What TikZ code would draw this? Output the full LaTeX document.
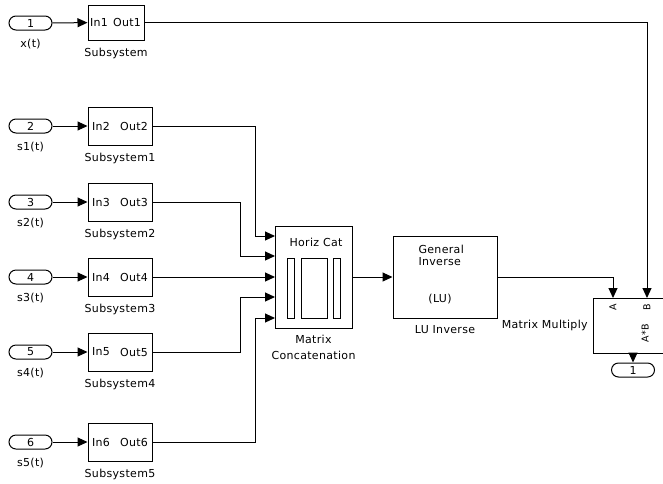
\documentclass[tikz,border=0pt]{standalone}
\usepackage{fontspec}
\setmainfont[LetterSpace=3]{DejaVu Sans}
\usetikzlibrary{positioning,arrows.meta}

\begin{document}
\begin{tikzpicture}[x=1pt,y=-1pt,
	font=\fontsize{11}{12}\selectfont,
	line width=1pt,
	sig/.style={-{Triangle[length=10pt,width=9pt]}},
	inport/.style={draw,rounded corners=7pt,minimum width=43pt,minimum height=14pt,inner sep=0pt},
	block/.style={draw,minimum width=64pt,minimum height=38pt,inner sep=0pt},
	portlbl/.style={inner sep=0pt}]
		\newcommand{\smallports}[1]{
			\fontsize{9.5}{10}\selectfont{#1}
		}%Page frame
		\useasboundingbox (0,0) rectangle (663,483);
		\clip (0,0) rectangle (663,483);
		%Inports with their signal names
		\foreach \n/\y/\s in {1/23/x(t),2/126/s1(t),3/202/s2(t),4/277/s3(t),5/352/s4(t),6/442/s5(t)} {
			\node [inport] (in\n) at (30.5,\y) {\n};
			\node [below=5pt of in\n] (sig\n) {\s};
		}
		%First subsystem (narrower box)
		\node [block,minimum width=56pt,minimum height=35pt] (sub1) at (116,22.5) {};
		\node [portlbl,anchor=west] (sub1in) at ([xshift=2pt]sub1.west) {In1};
		\node [portlbl,anchor=east] (sub1out) at ([xshift=-3pt]sub1.east) {Out1};
		\node [below=4pt of sub1] (sub1name) {Subsystem};
		%Subsystem1 .. Subsystem5
		\foreach \n/\y/\k in {2/126/1,3/202/2,4/277/3,5/352/4,6/442/5} {
			\node [block] (sub\n) at (120,\y) {};
			\node [portlbl,anchor=west] (sub\n in) at ([xshift=4pt]sub\n.west) {In\n};
			\node [portlbl,anchor=east] (sub\n out) at ([xshift=-4pt]sub\n.east) {Out\n};
			\node [below=4pt of sub\n] (sub\n name) {Subsystem\k};
		}
		%Inport to subsystem
		\foreach \n in {1,...,6} {
			\draw [sig] (in\n) -- (sub\n);
		}
		%Matrix Concatenation
		\node [block,minimum width=77pt,minimum height=102pt] (cat) at (313.5,277) {};
		\node (catlbl) at (316,242) {Horiz Cat};
		\draw (287,258) rectangle (294,318);
		\draw (301,258) rectangle (327,318);
		\draw (333,258) rectangle (340,318);
		\node [below=3pt of cat,align=center] (catname) {Matrix\\[4pt]Concatenation};
		\foreach \k/\y in {1/236,2/256,3/277,4/297,5/318} {
			\coordinate (cin\k) at (275,\y);
		}
		%Wires into the concatenation
		\draw [sig] (sub2) -| ([xshift=-20pt]cin1) -- (cin1);
		\draw [sig] (sub3) -| ([xshift=-35pt]cin2) -- (cin2);
		\draw [sig] (sub4) -- (cin3);
		\draw [sig] (sub5) -| ([xshift=-35pt]cin4) -- (cin4);
		\draw [sig] (sub6) -| ([xshift=-20pt]cin5) -- (cin5);
		%LU Inverse
		\node [block,minimum width=104pt,minimum height=82pt] (lu) at (445,277) {};
		\node [anchor=west,inner sep=0pt] (lutext1) at (418,249) {General};
		\node [anchor=west,inner sep=0pt] (lutext2) at (418,262) {Inverse};
		\node (lutext3) at (440,299) {(LU)};
		\node [below=3pt of lu] (luname) {LU Inverse};
		\draw [sig] (cat) -- (lu);
		%Matrix Multiply
		\node [draw,minimum width=80pt,minimum height=55pt,inner sep=0pt] (mm) at (633,325.5) {};
		\coordinate (mmA) at (613,298);
		\coordinate (mmB) at (647,298);
		\node [rotate=90,inner sep=0pt] (mmAl) at (613,307) {\smallports{A}};
		\node [rotate=90,inner sep=0pt] (mmBl) at (647,307) {\smallports{B}};
		\node [rotate=90,inner sep=0pt] (mmop) at (645,333) {\smallports{A*B}};
		\node [left=1pt of mm] (mmname) {Matrix Multiply};
		\draw [sig] (lu) -| (mmA);
		\draw [sig] (sub1) -| (mmB);
		%Outport
		\node [inport] (out1) at (633,370) {1};
		\draw [sig] (mm) -- (out1);
\end{tikzpicture}
\end{document}
